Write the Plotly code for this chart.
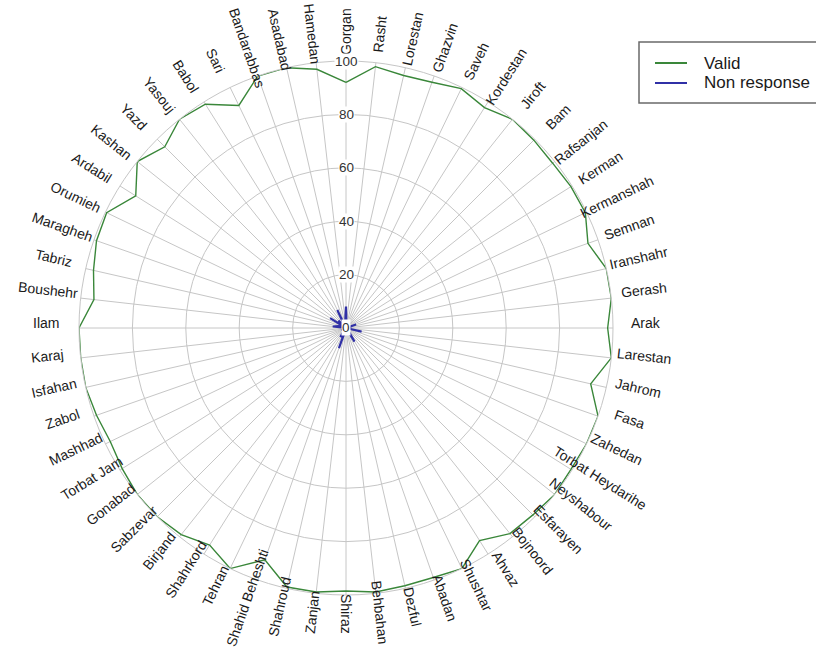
import math
import plotly.graph_objects as go

# Response rates by university city (percent), listed clockwise from the top
cities = [
    "Gorgan", "Rasht", "Lorestan", "Ghazvin", "Saveh", "Kordestan", "Jiroft", "Bam",
    "Rafsanjan", "Kerman", "Kermanshah", "Semnan", "Iranshahr", "Gerash", "Arak",
    "Larestan", "Jahrom", "Fasa", "Zahedan", "Torbat Heydarihe", "Neyshabour",
    "Esfarayen", "Bojnoord", "Ahvaz", "Shushtar", "Abadan", "Dezful", "Behbahan",
    "Shiraz", "Zanjan", "Shahroud", "Shahid Beheshti", "Tehran", "Shahrkord",
    "Birjand", "Sabzevar", "Gonabad", "Torbat Jam", "Mashhad", "Zabol", "Isfahan",
    "Karaj", "Ilam", "Boushehr", "Tabriz", "Maragheh", "Orumieh", "Ardabil", "Kashan",
    "Yazd", "Yasouj", "Babol", "Sari", "Bandarabbas", "Asadabad", "Hamedan",
]

valid = [
    92, 98.5, 97, 97.5, 99.5, 97.5, 100, 99.5,
    99, 99.5, 99.5, 96, 100, 100, 98,
    100, 94, 100, 100, 99.5, 100,
    99, 98.5, 94, 100, 99, 99, 99.5,
    98.5, 99.5, 99.5, 92, 100, 96,
    99, 100, 100, 99, 98, 99, 100,
    100, 100, 95, 97, 99, 99.5, 93, 100,
    96, 100, 99, 92.5, 100, 100, 97.5,
]

non_response = [
    8, 1.5, 3, 2.5, 0.5, 2.5, 0, 0.5,
    1, 0.5, 0.5, 4, 0, 0, 2,
    0, 6, 0, 0, 0.5, 0,
    1, 1.5, 6, 0, 1, 1, 0.5,
    1.5, 0.5, 0.5, 8, 0, 4,
    1, 0, 0, 1, 2, 1, 0,
    0, 0, 5, 3, 1, 0.5, 7, 0,
    4, 0, 1, 7.5, 0, 0, 2.5,
]

radial_ticks = [0, 20, 40, 60, 80, 100]
series_names = ["Valid", "Non response"]

GREEN = "#3a873a"
BLUE = "#3030a6"
GRID = "#c6c6c6"
FONT = "Arial, Liberation Sans, sans-serif"

W, H = 816, 653
CX, CY, R = 346, 328, 267      # polar centre and outer radius, in pixels
LABEL_RX, LABEL_RY = 300, 291  # ellipse on which city names are centred
LABEL_CY = CY - 5              # vertical centre of that ellipse


def to_paper(cx, cy, rx, ry, ang_deg):
    """Offset along a clockwise-from-top angle -> paper coordinates."""
    a = math.radians(ang_deg)
    x = cx + rx * math.sin(a)
    y = cy - ry * math.cos(a)
    return x / W, 1 - y / H


fig = go.Figure()
fig.add_trace(go.Scatterpolar(
    r=non_response + non_response[:1], theta=cities + cities[:1],
    mode="lines", name=series_names[1],
    line=dict(color=BLUE, width=2.2),
))
fig.add_trace(go.Scatterpolar(
    r=valid + valid[:1], theta=cities + cities[:1],
    mode="lines", name=series_names[0],
    line=dict(color=GREEN, width=1.4),
))

annotations = []
n = len(cities)
for i, name in enumerate(cities):
    theta = i * 360.0 / n
    px, py = to_paper(CX, LABEL_CY, LABEL_RX, LABEL_RY, theta)
    angle = theta - 90 if theta <= 180 else theta - 270
    annotations.append(dict(
        x=px, y=py, xref="paper", yref="paper", text=name, showarrow=False,
        textangle=angle, xanchor="center", yanchor="middle",
        font=dict(family=FONT, size=14, color="#1a1a1a"),
    ))

# radial scale labels along the top spoke
for v in radial_ticks:
    dist = v / 100 * R
    px, py = to_paper(CX, CY, dist, dist, 0)
    annotations.append(dict(
        x=px, y=py, xref="paper", yref="paper", text=str(v), showarrow=False,
        xanchor="center", yanchor="middle", bgcolor="white", borderpad=0,
        font=dict(family=FONT, size=13.5, color="#333333"),
    ))

# legend box
LEG_L, LEG_T, LEG_B = 639, 42, 103
legend_rows = [(series_names[0], GREEN, 63), (series_names[1], BLUE, 83)]
shapes = [dict(
    type="rect", xref="paper", yref="paper",
    x0=LEG_L / W, x1=840 / W, y0=1 - LEG_B / H, y1=1 - LEG_T / H,
    line=dict(color="#6a6a6a", width=1.5), fillcolor="white",
)]
for label, color, yy in legend_rows:
    shapes.append(dict(
        type="line", xref="paper", yref="paper",
        x0=655 / W, x1=687 / W, y0=1 - yy / H, y1=1 - yy / H,
        line=dict(color=color, width=2),
    ))
    annotations.append(dict(
        x=702 / W, y=1 - yy / H, xref="paper", yref="paper", text=label,
        showarrow=False, xanchor="left", yanchor="middle",
        font=dict(family=FONT, size=17, color="#1a1a1a"),
    ))

fig.update_layout(
    width=W, height=H,
    margin=dict(l=0, r=0, t=0, b=0, autoexpand=False),
    paper_bgcolor="white",
    showlegend=False,
    polar=dict(
        domain=dict(x=[(CX - R) / W, (CX + R) / W], y=[1 - (CY + R) / H, 1 - (CY - R) / H]),
        bgcolor="white",
        radialaxis=dict(
            range=[0, 100], tickvals=radial_ticks, showticklabels=False,
            ticks="", showline=False, gridcolor=GRID, gridwidth=1,
        ),
        angularaxis=dict(
            type="category", categoryarray=cities, direction="clockwise",
            rotation=90, showticklabels=False, ticks="",
            gridcolor=GRID, gridwidth=1, showline=True, linecolor=GRID, linewidth=1,
        ),
    ),
    shapes=shapes,
    annotations=annotations,
)

fig.write_html("out.html")
